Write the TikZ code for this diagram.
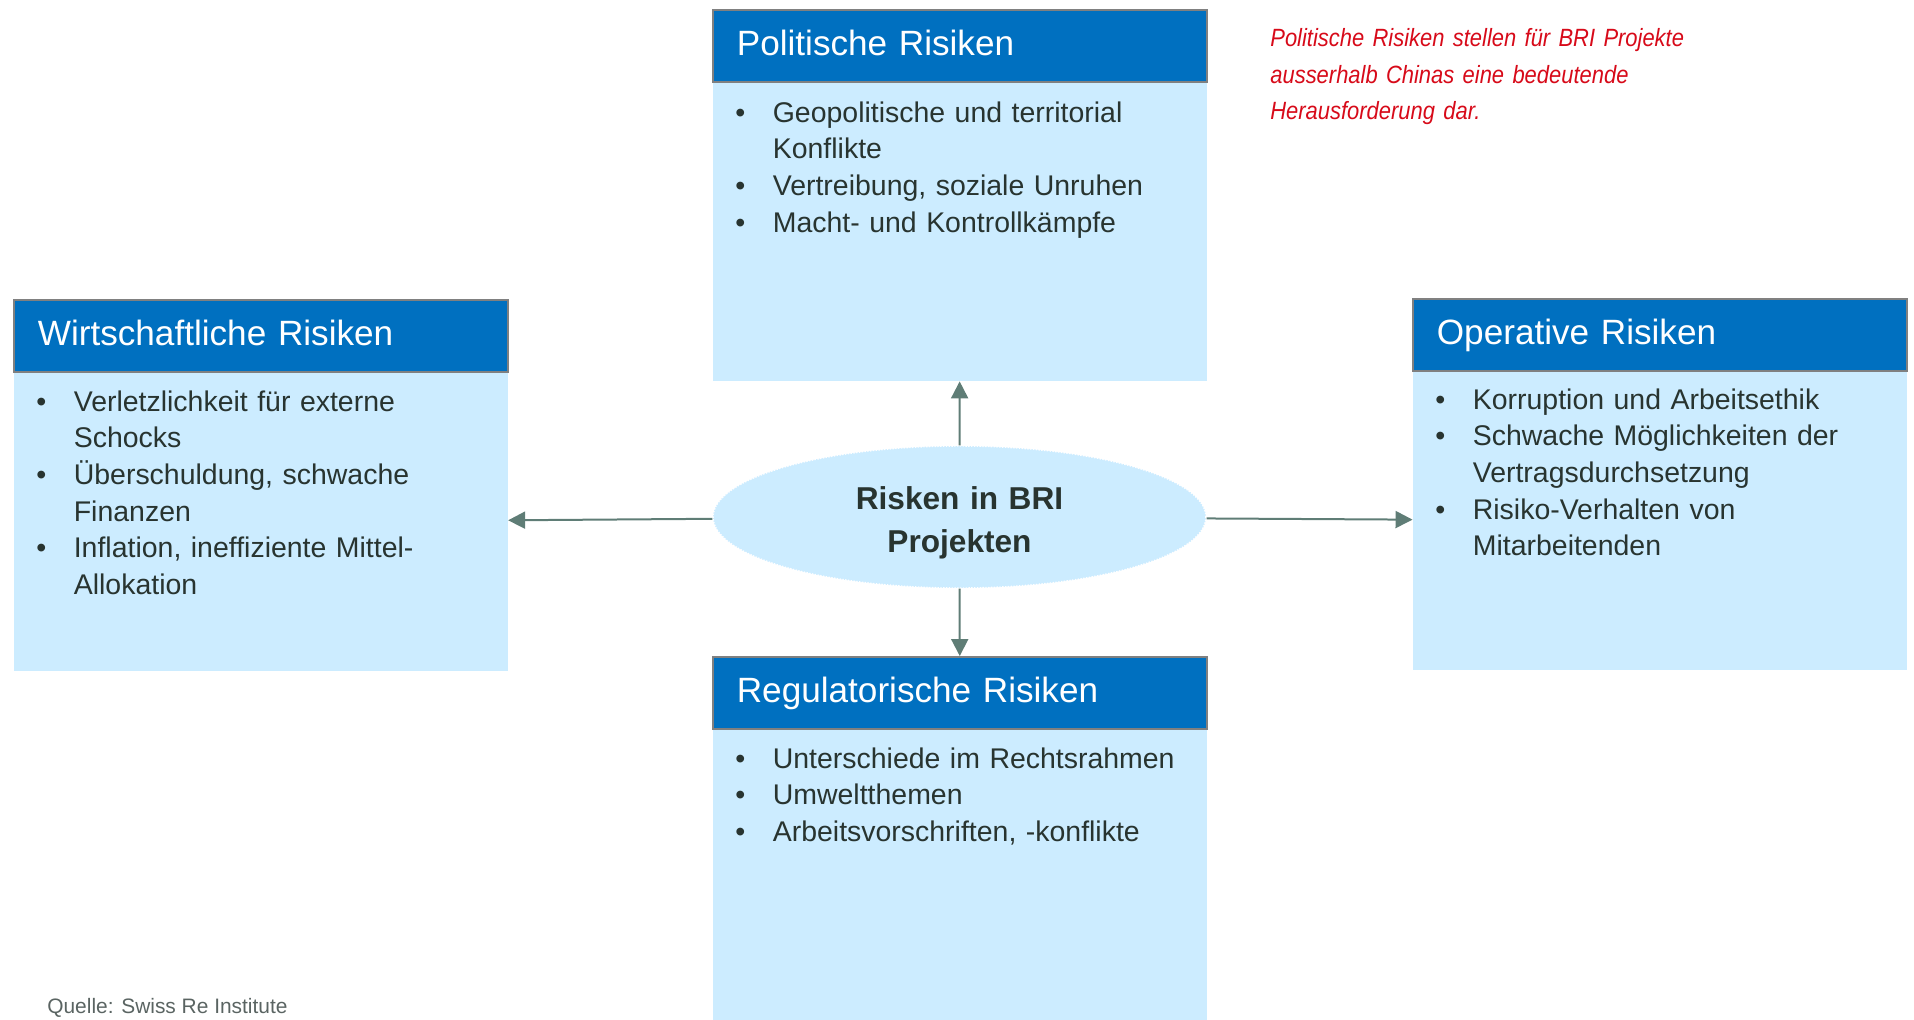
\documentclass[tikz,border=0pt]{standalone}
\usepackage{fontspec}
\setmainfont{Liberation Sans}
\newfontfamily\notefont{Liberation Sans}[FakeStretch=0.88]
\usetikzlibrary{positioning,shapes.geometric,arrows.meta}

\definecolor{srblue}{RGB}{0,112,192}
\definecolor{srlight}{RGB}{204,236,255}
\definecolor{srframe}{RGB}{128,128,128}
\definecolor{srtext}{RGB}{40,52,48}
\definecolor{srarrow}{RGB}{95,125,118}
\definecolor{srred}{RGB}{215,10,25}
\definecolor{srsource}{RGB}{90,100,98}

\newcommand{\riskitem}[1]{\hangindent=0.75cm\hangafter=1\noindent\makebox[0.75cm][l]{\textbullet}#1\par}

\begin{document}
\begin{tikzpicture}[x=0.02cm, y=-0.02cm,
    riskhead/.style={draw=srframe, line width=0.035cm, fill=srblue, text=white, anchor=north west,
        minimum width=9.88cm, minimum height=1.44cm, inner xsep=0.48cm, inner ysep=0pt,
        text width=8.92cm, align=left, text height=0.5cm, text depth=0.1cm,
        font=\fontsize{20}{24}\selectfont},
    riskbody/.style={fill=srlight, inner sep=0pt, minimum width=9.88cm, minimum height=5.96cm},
    riskitems/.style={anchor=base west, inner sep=0pt, text width=9.2cm, align=left, text=srtext,
        font=\fontsize{16.2}{20.9}\selectfont},
    riskcore/.style={ellipse, fill=srlight, draw=white, line width=0.8pt, dash pattern=on 0.8pt off 0.8pt,
        minimum width=9.86cm, minimum height=2.84cm, inner sep=0pt, text width=6cm, align=center,
        text height=0.6cm, text depth=0.9cm, text=srtext, font=\bfseries\fontsize{18}{24.6}\selectfont},
    remark/.style={anchor=base west, inner sep=0pt, text width=9.6cm, align=left, text=srred,
        font=\notefont\itshape\fontsize{14.2}{20.8}\selectfont},
    link/.style={draw=srarrow, line width=0.04cm, -{Triangle[length=0.34cm,width=0.34cm]}}]
    \useasboundingbox (0,0) rectangle (1914,1019);

    \node[riskhead] (polhead) at (712,9) {Politische Risiken};
    \node[riskbody, below=0pt of polhead] (polbody) {};
    \node[riskitems] (politems) at (735,122) {\riskitem{Geopolitische und territorial\newline Konflikte}
        \riskitem{Vertreibung, soziale Unruhen}
        \riskitem{Macht- und Kontrollkämpfe}};

    \node[riskhead] (wirthead) at (13,299) {Wirtschaftliche Risiken};
    \node[riskbody, below=0pt of wirthead] (wirtbody) {};
    \node[riskitems] (wirtitems) at (36,411) {\riskitem{Verletzlichkeit für externe\newline Schocks}
        \riskitem{Überschuldung, schwache\newline Finanzen}
        \riskitem{Inflation, ineffiziente Mittel-\newline Allokation}};

    \node[riskhead] (ophead) at (1412,298) {Operative Risiken};
    \node[riskbody, below=0pt of ophead] (opbody) {};
    \node[riskitems] (opitems) at (1435,409) {\riskitem{Korruption und Arbeitsethik}
        \riskitem{Schwache Möglichkeiten der\newline Vertragsdurchsetzung}
        \riskitem{Risiko-Verhalten von\newline Mitarbeitenden}};

    \node[riskhead] (reghead) at (712,656) {Regulatorische Risiken};
    \node[riskbody, minimum height=7.4cm, below=0pt of reghead] (regbody) {};
    \node[riskitems] (regitems) at (735,768) {\riskitem{Unterschiede im Rechtsrahmen}
        \riskitem{Umweltthemen}
        \riskitem{Arbeitsvorschriften, -konflikte}};

    \node[riskcore] (risks) at (959.5,517) {Risken in BRI\\Projekten};

    \draw[link] (risks) -- (polbody);
    \draw[link] (risks) -- (reghead);
    \draw[link] (risks) -- (wirtbody);
    \draw[link] (risks) -- (opbody);

    \node[remark] (note) at (1270,46.7) {Politische Risiken stellen für BRI Projekte\\ausserhalb Chinas eine bedeutende\\Herausforderung dar.};

    \node[anchor=base west, inner sep=0pt, text=srsource, font=\fontsize{11.9}{14}\selectfont] (source) at (47,1013) {Quelle: Swiss Re Institute};
\end{tikzpicture}
\end{document}
